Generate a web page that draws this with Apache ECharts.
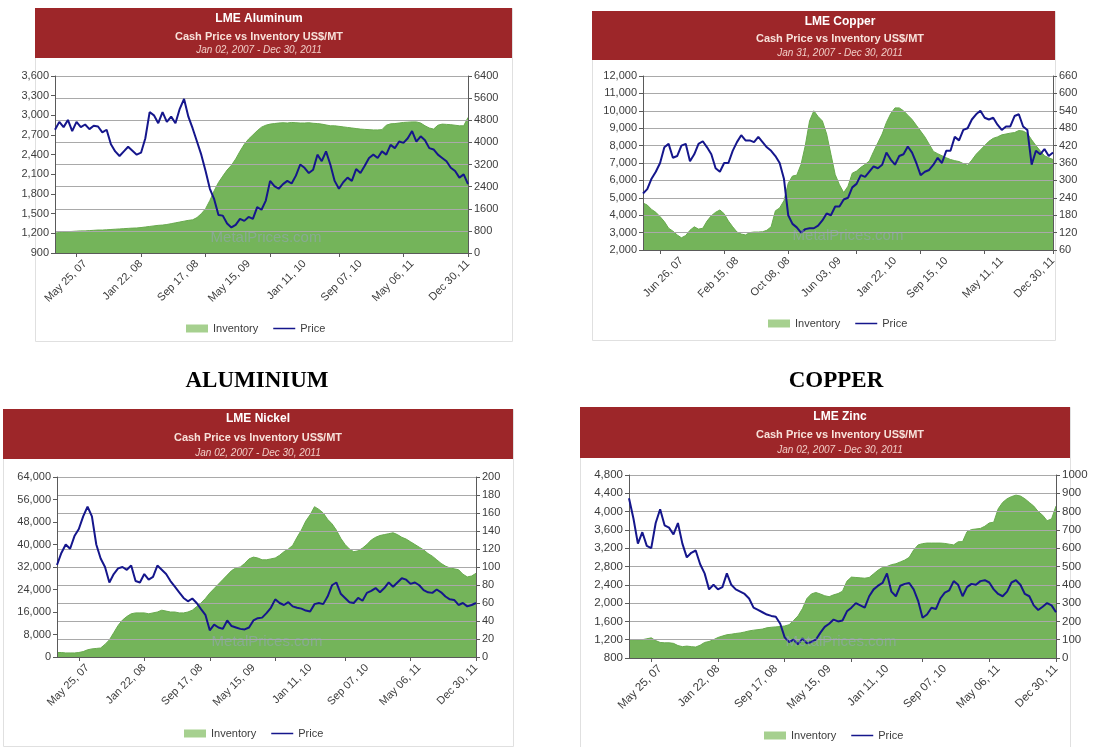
<!DOCTYPE html>
<html>
<head>
<meta charset="utf-8">
<script src="https://cdn.jsdelivr.net/npm/echarts@6/dist/echarts.min.js"></script>
<style>
html,body{margin:0;padding:0;background:#ffffff;}
#c{width:1094px;height:747px;}
</style>
</head>
<body>
<div id="c"></div>
<script>
// ---------------- data ----------------
const stdDateLabels = ['May 25, 07','Jan 22, 08','Sep 17, 08','May 15, 09','Jan 11, 10','Sep 07, 10','May 06, 11','Dec 30, 11'];
const cuDateLabels  = ['Jun 26, 07','Feb 15, 08','Oct 08, 08','Jun 03, 09','Jan 22, 10','Sep 15, 10','May 11, 11','Dec 30, 11'];

const alPrice = [2780,2900,2820,2930,2760,2900,2820,2860,2790,2840,
2830,2740,2780,2560,2450,2380,2450,2520,2460,2400,
2430,2650,3050,3000,2880,3050,2900,2980,2880,3100,
3250,2980,2800,2600,2400,2150,1880,1720,1480,1470,
1350,1290,1330,1420,1390,1450,1420,1600,1560,1700,
2000,1920,1880,1950,2000,1960,2080,2250,2200,2120,
2170,2400,2300,2450,2250,2000,1880,1980,2050,2000,
2180,2120,2230,2350,2400,2350,2450,2400,2550,2500,
2600,2580,2650,2760,2600,2680,2620,2500,2480,2400,
2350,2300,2200,2150,2050,2100,1950];
const alInventory = [720,740,760,770,780,790,800,800,810,820,
830,830,840,850,860,870,880,890,900,905,
920,940,960,980,1000,1010,1030,1060,1090,1120,
1150,1180,1200,1280,1420,1600,1900,2250,2550,2780,
3000,3170,3400,3680,3930,4120,4270,4420,4550,4620,
4660,4680,4700,4710,4700,4720,4710,4700,4700,4710,
4690,4680,4660,4630,4600,4600,4580,4560,4540,4520,
4500,4480,4470,4460,4450,4450,4460,4620,4670,4680,
4700,4720,4730,4740,4740,4700,4600,4520,4480,4620,
4660,4650,4640,4620,4600,4600,4900];

const cuPrice = [5250,5500,6100,6500,7000,7900,8100,7300,7400,8000,
8100,7100,7500,8100,8250,7900,7500,6700,6500,7000,
7000,7700,8200,8600,8300,8300,8200,8500,8200,7900,
7700,7400,7000,6100,4000,3500,3300,3000,3200,3250,
3250,3400,3700,4100,4000,4500,4500,4900,5000,5600,
5800,6300,6200,6500,6800,6700,6900,7600,7200,6900,
7400,7500,7950,7600,7000,6300,6500,6600,6900,7300,
7000,7700,7700,8500,8300,8900,9000,9500,9800,10000,
9600,9500,9600,9200,8900,9100,9100,9700,9800,9100,
8900,6900,7700,7500,7800,7400,7600];
const cuInventory = [222,215,200,190,175,158,135,125,112,102,
110,128,140,132,135,160,178,190,198,185,
160,140,122,115,112,120,122,122,123,128,
140,195,205,230,290,315,318,355,420,505,
540,520,505,460,390,320,285,258,280,325,
332,345,355,367,400,430,460,500,530,550,
550,540,525,510,490,470,450,425,400,392,
385,378,372,368,365,358,352,370,390,405,
420,435,445,450,457,460,463,465,472,470,
462,440,420,402,385,378,372];

const niPrice = [32700,37000,40000,38500,43000,45500,50000,53500,50000,40000,
35000,32000,26500,29500,31500,32000,31000,32500,27000,26500,
29500,27500,28500,32500,31000,29500,27000,25000,23000,21000,
19800,20800,19200,17000,15000,9500,11500,10500,10000,13000,
11000,10500,10000,9800,10500,13000,13800,14000,15600,17500,
20500,19200,18500,19500,18000,17500,17200,16500,16200,18800,
19200,18800,21500,25500,26500,22500,21000,19500,19200,21000,
20000,22800,23500,24500,23000,24500,26500,25000,26500,28000,
27500,26000,26500,25500,23800,23000,22800,24000,23000,21500,
20500,20300,18500,19200,18000,18500,19200];
const niInventory = [5,5,4.5,4.5,4.5,5,6,8,9,9.5,
10,14,19,27,35,41,45,48,49,49,
49,48,49,50,52,51,50,50,49,49,
50,52,56,60,65,71,76,81,86,91,
96,99,100,104,109,111,110,108,108,109,
110,113,117,120,124,133,141,151,158,167,
164,160,153,148,141,132,125,120,117,118,
121,125,130,133,135,136,137,138,136,133,
131,128,125,122,119,115,112,108,104,101,
99,98,97,92,89,90,93];

const znPrice = [4290,3850,3300,3550,3250,3200,3750,4050,3700,3650,
3500,3750,3300,3000,3100,3150,2850,2650,2300,2400,
2300,2350,2650,2400,2300,2250,2200,2100,1900,1850,
1800,1750,1720,1700,1550,1250,1150,1200,1100,1230,
1120,1150,1200,1350,1480,1550,1640,1600,1620,1820,
1900,2000,1950,1900,2150,2300,2380,2440,2650,2250,
2150,2380,2420,2440,2300,2050,1680,1750,1900,1870,
2100,2230,2280,2480,2400,2150,2350,2420,2400,2480,
2500,2450,2300,2200,2150,2250,2450,2500,2400,2200,
2150,1950,1850,1920,2000,1950,1800];
const znInventory = [100,100,100,100,105,110,95,85,83,83,
80,68,62,65,62,60,70,85,90,100,
112,120,127,130,134,137,142,148,152,155,
158,165,168,170,172,175,182,205,230,270,
325,350,358,350,340,335,345,352,365,420,
442,440,438,436,440,460,480,495,500,510,
515,525,535,550,590,618,625,628,628,628,
628,626,622,618,635,636,690,702,705,708,
720,738,742,815,850,870,882,890,885,870,
850,830,800,780,750,760,830];

// ---------------- layout / style ----------------
const SANS = '"Liberation Sans", Arial, Helvetica, sans-serif';
const stdLabelIdx = [7,20,33,45,58,71,83,96];
const stdTickIdx  = [5,20,35,50,66,81,96];
const cuLabelIdx  = [9,22,34,46,59,71,84,96];
const cuTickIdx   = [4,19,34,50,65,80,96];

const panels = [
  {name:'LME Aluminum', price:alPrice, inv:alInventory, labels:stdDateLabels, labelIdx:stdLabelIdx, tickIdx:stdTickIdx,
   grid:{left:55, top:76, width:413, height:177}, p:[900,3600,300], i:[0,6400,800], fs:11,
   box:[35,8,477,333], bannerH:50, tx:259, ty:[18.5,36.5,50.5], legend:[186,323], wm:[266,238]},
  {name:'LME Copper', price:cuPrice, inv:cuInventory, labels:cuDateLabels, labelIdx:cuLabelIdx, tickIdx:cuTickIdx,
   grid:{left:643, top:76, width:410, height:174}, p:[2000,12000,1000], i:[60,660,60], fs:11,
   box:[592,11,463,329], bannerH:49, tx:840, ty:[21.5,38.5,53], legend:[768,318], wm:[848,236]},
  {name:'LME Nickel', price:niPrice, inv:niInventory, labels:stdDateLabels, labelIdx:stdLabelIdx, tickIdx:stdTickIdx,
   grid:{left:57, top:477, width:419, height:180}, p:[0,64000,8000], i:[0,200,20], fs:11,
   box:[3,409,510,337], bannerH:50, tx:258, ty:[419,437.5,453], legend:[184,728], wm:[267,642]},
  {name:'LME Zinc', price:znPrice, inv:znInventory, labels:stdDateLabels, labelIdx:stdLabelIdx, tickIdx:stdTickIdx,
   grid:{left:629, top:475, width:427, height:183}, p:[800,4800,400], i:[0,1000,100], fs:11.5,
   box:[580,407,490,340], bannerH:51, tx:840, ty:[417,434.5,450], legend:[764,730], wm:[841,642]}
];

const subtitleText = 'Cash Price vs Inventory US$/MT';
const dateRanges = ['Jan 02, 2007 - Dec 30, 2011','Jan 31, 2007 - Dec 30, 2011','Jan 02, 2007 - Dec 30, 2011','Jan 02, 2007 - Dec 30, 2011'];

function commas(v){ return String(v).replace(/\B(?=(\d{3})+(?!\d))/g, ','); }
function text(x, y, s, font, fill, z){
  return {type:'text', x:x, y:y, z: z || 20, silent:true,
    style:{text:s, font:font, fill:fill, align:'center', verticalAlign:'middle', textAlign:'center', textVerticalAlign:'middle'}};
}

const option = {animation:false, backgroundColor:'#ffffff', grid:[], xAxis:[], yAxis:[], series:[], legend:[], graphic:[]};
const AX = '#5a5a5a', GRIDC = '#a9a9a9', LBL = '#3c3c3c';

panels.forEach(function(c, k){
  const sampleIds = c.price.map(function(_, i){ return String(i); });
  option.grid.push(Object.assign({containLabel:false}, c.grid));
  option.xAxis.push({type:'category', gridIndex:k, data:sampleIds, boundaryGap:false, z:3,
    axisLine:{lineStyle:{color:AX, width:1}},
    axisTick:{show:true, length:4, interval:function(i){ return c.tickIdx.indexOf(i) >= 0; }, lineStyle:{color:AX}},
    axisLabel:{interval:function(i){ return c.labelIdx.indexOf(i) >= 0; }, rotate:45, margin:9,
      fontSize:c.fs, fontFamily:SANS, color:LBL,
      formatter:function(v){ const j = c.labelIdx.indexOf(Number(v)); return j >= 0 ? c.labels[j] : ''; }},
    splitLine:{show:false}});
  option.yAxis.push({type:'value', gridIndex:k, position:'left', min:c.p[0], max:c.p[1], interval:c.p[2], z:3,
    axisLine:{show:true, lineStyle:{color:AX}}, axisTick:{show:true, length:4, lineStyle:{color:AX}},
    axisLabel:{margin:6, fontSize:c.fs, fontFamily:SANS, color:LBL, formatter:function(v){ return commas(v); }},
    splitLine:{show:false}});
  option.yAxis.push({type:'value', gridIndex:k, position:'right', min:c.i[0], max:c.i[1], interval:c.i[2], z:2,
    axisLine:{show:true, lineStyle:{color:AX}}, axisTick:{show:true, length:4, lineStyle:{color:AX}},
    axisLabel:{margin:6, fontSize:c.fs, fontFamily:SANS, color:LBL, formatter:function(v){ return String(v); }},
    splitLine:{show:true, lineStyle:{color:GRIDC, width:1}}});
  option.series.push({name:'Inventory', type:'line', xAxisIndex:k, yAxisIndex:2*k+1, data:c.inv, symbol:'none', z:1,
    itemStyle:{color:'#74b45a'}, lineStyle:{color:'#68aa4e', width:1},
    areaStyle:{color:'#74b45a', opacity:1, origin:'start'}});
  option.series.push({name:'Price', type:'line', xAxisIndex:k, yAxisIndex:2*k, data:c.price, symbol:'none', z:4,
    itemStyle:{color:'#15168c'}, lineStyle:{color:'#15168c', width:2}});
  option.legend.push({left:c.legend[0], top:c.legend[1], padding:0, itemWidth:22, itemHeight:8, itemGap:15,
    selectedMode:false, textStyle:{fontSize:11, fontFamily:SANS, color:LBL},
    data:[{name:'Inventory', icon:'rect', itemStyle:{color:'#a6d08f'}},
          {name:'Price', icon:'path://M0,0h0.01v0.01h-0.01z M0,3.2h22v1.6h-22z M21.99,7.99h0.01v0.01h-0.01z', itemStyle:{color:'#15168c'}}]});

  const b = c.box;
  option.graphic.push({type:'rect', silent:true, z:0, shape:{x:b[0]+0.5, y:b[1]+0.5, width:b[2], height:b[3]},
    style:{fill:'none', stroke:'#e0e0e0', lineWidth:1}});
  option.graphic.push({type:'rect', silent:true, z:5, shape:{x:b[0], y:b[1], width:b[2], height:c.bannerH},
    style:{fill:'#9d2629'}});
  option.graphic.push(text(c.tx, c.ty[0], c.name, 'bold 12px ' + SANS, '#ffffff'));
  option.graphic.push(text(c.tx, c.ty[1], subtitleText, 'bold 11px ' + SANS, '#f7e1da'));
  option.graphic.push(text(c.tx, c.ty[2], dateRanges[k], 'italic 10px ' + SANS, '#f1cdc6'));
  option.graphic.push(text(c.wm[0], c.wm[1], 'MetalPrices.com', '15px ' + SANS, 'rgba(160,160,210,0.45)', 6));
});

option.graphic.push(text(257, 381, 'ALUMINIUM', 'bold 23px "Liberation Serif", "Times New Roman", serif', '#000000'));
option.graphic.push(text(836, 381, 'COPPER', 'bold 23px "Liberation Serif", "Times New Roman", serif', '#000000'));

const chart = echarts.init(document.getElementById('c'), null, {renderer:'canvas', width:1094, height:747});
chart.setOption(option);
</script>
</body>
</html>
